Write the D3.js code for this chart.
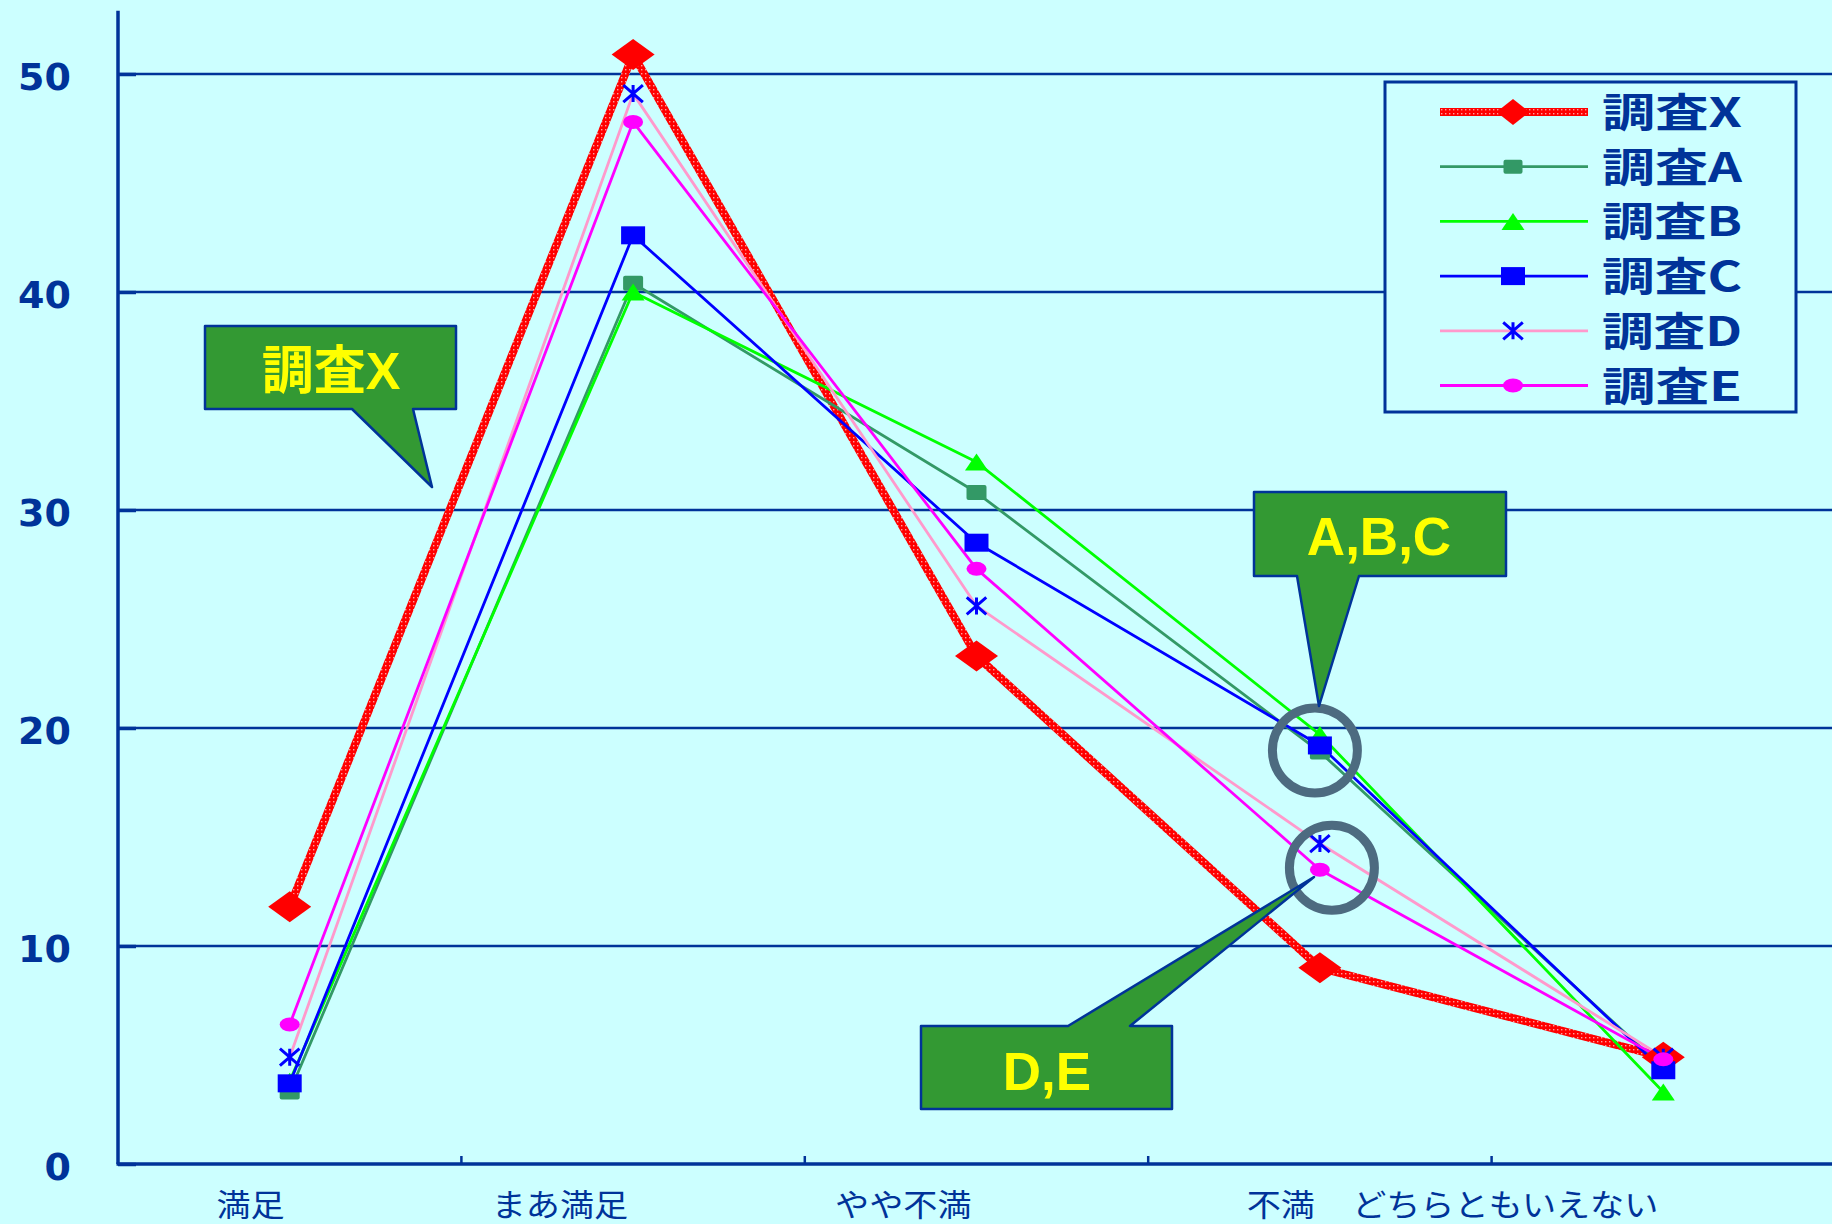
<!DOCTYPE html>
<html>
<head>
<meta charset="utf-8">
<script src="https://cdn.jsdelivr.net/npm/d3@7"></script>
<style>
  html, body { margin: 0; padding: 0; background: #ccffff; }
  svg { display: block; }
</style>
</head>
<body>
<svg id="chart" width="1832" height="1224"></svg>
<script>
// ---- data ----
const categories = ["満足", "まあ満足", "やや不満", "不満", "どちらともいえない"];
const seriesNames = ["調査X", "調査A", "調査B", "調査C", "調査D", "調査E"];
const valuesX = [11.8, 50.9, 23.3, 9.0, 4.9];
const valuesA = [3.3, 40.4, 30.8, 18.9, 4.4];
const valuesB = [3.8, 40.0, 32.2, 19.7, 3.3];
const valuesC = [3.7, 42.6, 28.5, 19.2, 4.3];
const valuesD = [4.9, 49.1, 25.6, 14.7, 4.9];
const valuesE = [6.4, 47.8, 27.3, 13.5, 4.8];
const yTicks = [0, 10, 20, 30, 40, 50];
const calloutLabels = ["調査X", "A,B,C", "D,E"];

// ---- styling per series ----
const AXIS = "#003399";
const series = [
  { name: seriesNames[0], values: valuesX, stroke: "url(#redHatch)", width: 8, marker: "diamond", fill: "#ff0000", size: [43, 31], lsize: [33, 26] },
  { name: seriesNames[1], values: valuesA, stroke: "#339966", width: 2.8, marker: "square", fill: "#339966", size: [20, 15], lsize: [19, 14], rx: 2 },
  { name: seriesNames[2], values: valuesB, stroke: "#00ff00", width: 2.8, marker: "triangle", fill: "#00ff00", size: [23, 17], lsize: [23, 17] },
  { name: seriesNames[3], values: valuesC, stroke: "#0000ff", width: 2.8, marker: "square", fill: "#0000ff", size: [24, 18], lsize: [24, 18], rx: 0 },
  { name: seriesNames[4], values: valuesD, stroke: "#ff99cc", width: 2.8, marker: "asterisk", fill: "#0000ff", size: [23, 17], lsize: [23, 17] },
  { name: seriesNames[5], values: valuesE, stroke: "#ff00ff", width: 2.8, marker: "ellipse", fill: "#ff00ff", size: [20, 14], lsize: [20, 14] }
];

const svg = d3.select("#chart");
const W = 1832, H = 1224;

// red dotted texture used for the thick line of 調査X
const defs = svg.append("defs");
const pat = defs.append("pattern").attr("id", "redHatch")
  .attr("patternUnits", "userSpaceOnUse").attr("width", 4).attr("height", 4);
pat.append("rect").attr("width", 4).attr("height", 4).attr("fill", "#ff0000");
pat.append("rect").attr("x", 1).attr("y", 1).attr("width", 1.4).attr("height", 1.4).attr("fill", "#ffa0a0");

svg.append("rect").attr("width", W).attr("height", H).attr("fill", "#ccffff");

// ---- scales ----
const x = d3.scaleBand().domain(categories).range([118, 1835]);
const xc = c => x(c) + x.bandwidth() / 2;
const y = d3.scaleLinear().domain([0, 50]).range([1164, 74]);

// ---- gridlines ----
svg.append("g").selectAll("line").data(yTicks.filter(v => v > 0)).join("line")
  .attr("x1", 118).attr("x2", W)
  .attr("y1", d => y(d)).attr("y2", d => y(d))
  .attr("stroke", AXIS).attr("stroke-width", 2.4);

// ---- y axis ----
const yAxis = d3.axisLeft(y).tickValues(yTicks).tickSize(-18).tickPadding(47).tickFormat(d3.format("d"));
const gy = svg.append("g").attr("transform", "translate(118,0)").call(yAxis);
gy.select(".domain").remove();
gy.selectAll(".tick line").attr("stroke", AXIS).attr("stroke-width", 3.5);
gy.selectAll(".tick text")
  .attr("fill", AXIS).attr("dy", "0.4em")
  .style("font-family", "'DejaVu Sans', sans-serif").style("font-weight", "bold").style("font-size", "38px");
svg.append("line").attr("x1", 118).attr("x2", 118).attr("y1", y(52.9)).attr("y2", y(0))
  .attr("stroke", AXIS).attr("stroke-width", 3.5);

// ---- x axis ----
svg.append("line").attr("x1", 116.5).attr("x2", W).attr("y1", y(0)).attr("y2", y(0))
  .attr("stroke", AXIS).attr("stroke-width", 3.5);
svg.append("g").selectAll("line").data(categories.slice(1)).join("line")
  .attr("x1", d => x(d)).attr("x2", d => x(d))
  .attr("y1", y(0)).attr("y2", y(0) - 8)
  .attr("stroke", AXIS).attr("stroke-width", 2.5);
svg.append("g").selectAll("text").data(categories).join("text")
  .attr("transform", d => `translate(${xc(d) - 5},1216) scale(1.1,1)`)
  .attr("text-anchor", "end")
  .attr("fill", AXIS)
  .style("font-family", "'Noto Sans CJK JP', sans-serif").style("font-size", "31px")
  .text(d => d);

// ---- marker shapes ----
function drawMarker(g, type, w, h, fill, rx) {
  if (type === "diamond") {
    g.append("path").attr("d", `M0,${-h / 2}L${w / 2},0L0,${h / 2}L${-w / 2},0Z`).attr("fill", fill);
  } else if (type === "square") {
    g.append("rect").attr("x", -w / 2).attr("y", -h / 2).attr("width", w).attr("height", h)
      .attr("rx", rx || 0).attr("fill", fill);
  } else if (type === "triangle") {
    g.append("path").attr("d", `M0,${-h / 2}L${w / 2},${h / 2}L${-w / 2},${h / 2}Z`).attr("fill", fill);
  } else if (type === "ellipse") {
    g.append("ellipse").attr("rx", w / 2).attr("ry", h / 2).attr("fill", fill);
  } else if (type === "asterisk") {
    const a = w / 2 * 0.85, b = h / 2;
    g.append("path")
      .attr("d", `M${-a},${-b}L${a},${b}M${a},${-b}L${-a},${b}M0,${-b}L0,${b}`)
      .attr("stroke", fill).attr("stroke-width", 3).attr("fill", "none");
  }
}

// ---- series lines ----
const line = d3.line().x((d, i) => xc(categories[i])).y(d => y(d));
const linesG = svg.append("g");
series.forEach(s => {
  linesG.append("path").datum(s.values)
    .attr("d", line).attr("fill", "none")
    .attr("stroke", s.stroke).attr("stroke-width", s.width)
    .attr("stroke-linejoin", "round");
});
// ---- series markers ----
const markersG = svg.append("g");
series.forEach(s => {
  s.values.forEach((v, i) => {
    const g = markersG.append("g").attr("transform", `translate(${xc(categories[i])},${y(v)})`);
    drawMarker(g, s.marker, s.size[0], s.size[1], s.fill, s.rx);
  });
});

// ---- highlight rings ----
const ringColor = "#4d6b80";
const rings = [
  { cx: xc("不満") - 5, cy: y(valuesC[3]) + 5 },
  { cx: xc("不満") + 12, cy: y(valuesE[3]) - 2 }
];
svg.append("g").selectAll("circle").data(rings).join("circle")
  .attr("cx", d => d.cx).attr("cy", d => d.cy).attr("r", 42.5)
  .attr("fill", "none").attr("stroke", ringColor).attr("stroke-width", 9);

// ---- callouts ----
const calloutShapes = [
  { pts: [[205, 326], [456, 326], [456, 409], [413, 409], [432, 487], [352, 409], [205, 409]], tx: 331, ty: 389, size: 52 },
  { pts: [[1254, 492], [1506, 492], [1506, 576], [1359, 576], [1319, 706], [1297, 576], [1254, 576]], tx: 1379, ty: 555, size: 53 },
  { pts: [[921, 1026], [1068, 1026], [1314, 877], [1130, 1026], [1172, 1026], [1172, 1109], [921, 1109]], tx: 1047, ty: 1090, size: 53 }
];
const cg = svg.append("g");
calloutShapes.forEach((c, i) => {
  cg.append("path").attr("d", "M" + c.pts.map(p => p.join(",")).join("L") + "Z")
    .attr("fill", "#339933").attr("stroke", AXIS).attr("stroke-width", 2.5).attr("stroke-linejoin", "round");
  cg.append("text").attr("x", c.tx).attr("y", c.ty).attr("text-anchor", "middle")
    .attr("fill", "#ffff00")
    .style("font-family", "'Liberation Sans', 'Noto Sans CJK JP', sans-serif")
    .style("font-weight", "bold").style("font-size", c.size + "px")
    .text(calloutLabels[i]);
});

// ---- legend ----
const lg = svg.append("g");
lg.append("rect").attr("x", 1385).attr("y", 82).attr("width", 411).attr("height", 330)
  .attr("fill", "#ccffff").attr("stroke", AXIS).attr("stroke-width", 3);
const rowY = i => 112 + i * 54.7;
series.forEach((s, i) => {
  const ry = rowY(i);
  lg.append("line").attr("x1", 1440).attr("x2", 1588).attr("y1", ry).attr("y2", ry)
    .attr("stroke", s.stroke).attr("stroke-width", s.width);
  const g = lg.append("g").attr("transform", `translate(1513,${ry})`);
  drawMarker(g, s.marker, s.lsize[0], s.lsize[1], s.fill, s.rx);
  lg.append("text").attr("x", 1602).attr("y", ry + 15)
    .attr("textLength", 140).attr("lengthAdjust", "spacingAndGlyphs")
    .attr("fill", AXIS)
    .style("font-family", "'Noto Sans CJK JP', sans-serif").style("font-weight", "bold").style("font-size", "40px")
    .text(s.name);
});
</script>
</body>
</html>
